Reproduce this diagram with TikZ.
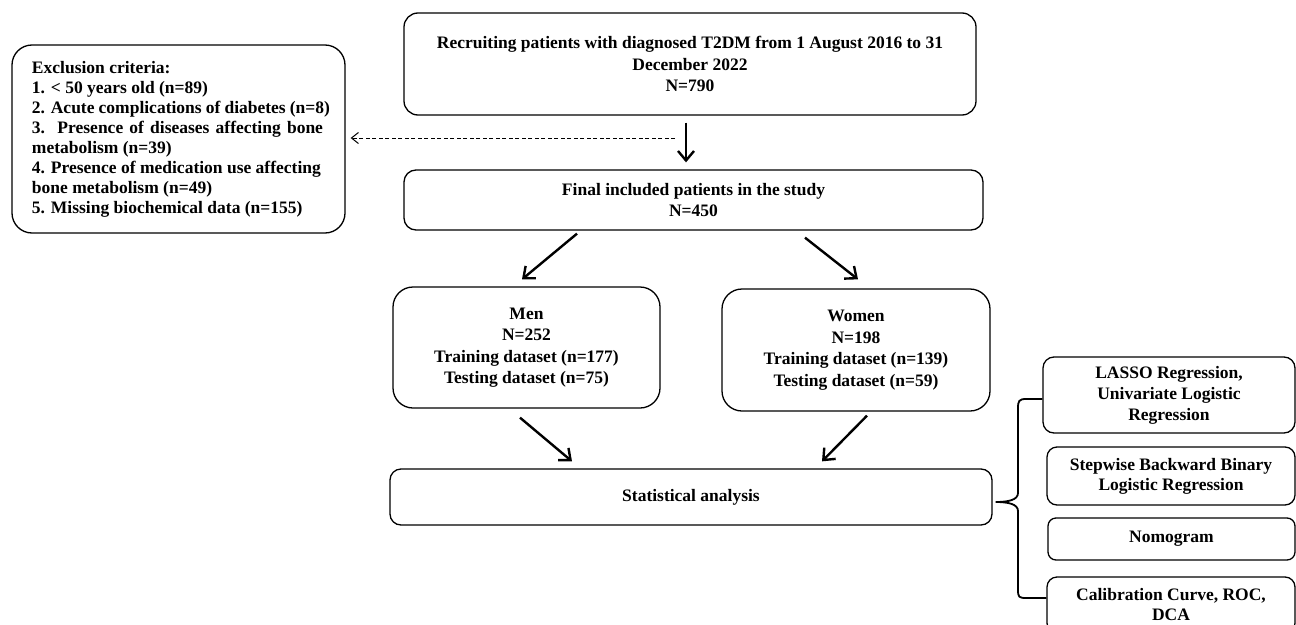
\documentclass[tikz,border=0pt]{standalone}
\usepackage{fontspec}
\setmainfont{Liberation Serif}
\usetikzlibrary{arrows.meta,calc}
\tikzset{
  box/.style={draw=black, line width=1.3pt, rounded corners=#1, inner sep=0pt, align=center,
    font=\fontsize{17.5}{21.5}\selectfont\bfseries},
  box/.default=14pt,
  arr/.style={line width=2.4pt, -{Straight Barb[length=9.5pt,width=16pt,line width=2.4pt]}},
  darr/.style={line width=1pt, dash pattern=on 4pt off 2.5pt, -{Straight Barb[length=7pt,width=11pt,line width=1pt]}},
  bracepath/.style={line width=1.8pt}
}
\begin{document}
\begin{tikzpicture}[x=1pt,y=-1pt]
\clip (0,0) rectangle (1296,624);
\fill[white] (0,0) rectangle (1296,624);

\node[box=14pt, minimum width=572pt, minimum height=102pt] (top) at (690,64)
  {Recruiting patients with diagnosed T2DM from 1 August 2016 to 31\\December 2022\\N=790};
\node[box=12pt, minimum width=579pt, minimum height=60pt] (final) at (693.5,200)
  {Final included patients in the study\\N=450};
\node[box=20pt, minimum width=333pt, minimum height=188pt, align=left,
  font=\fontsize{17.5}{20}\selectfont\bfseries] (excl) at (178.5,139)
  {\hspace*{5pt}\parbox{298pt}{\raggedright
  Exclusion criteria:\\
  1. \textless{} 50 years old (n=89)\\
  2. Acute complications of diabetes (n=8)\\
  \makebox[291pt][s]{3.\ \ Presence of diseases affecting bone}\\
  metabolism (n=39)\\
  4. Presence of medication use affecting\\
  bone metabolism (n=49)\\
  5. Missing biochemical data (n=155)}};
\node[box=20pt, minimum width=267pt, minimum height=121pt] (men) at (526.5,347.5)
  {Men\\N=252\\Training dataset (n=177)\\Testing dataset (n=75)};
\node[box=20pt, minimum width=268pt, minimum height=122pt] (women) at (856,350)
  {Women\\N=198\\Training dataset (n=139)\\Testing dataset (n=59)};
\node[box=11pt, minimum width=602pt, minimum height=56pt] (stat) at (691,497)
  {Statistical analysis};
\node[box=11pt, minimum width=252pt, minimum height=76pt,
  font=\fontsize{17.5}{21}\selectfont\bfseries] (lasso) at (1169,395)
  {LASSO Regression,\\Univariate Logistic\\Regression};
\node[box=10pt, minimum width=248pt, minimum height=58pt,
  font=\fontsize{17.5}{20}\selectfont\bfseries] (step) at (1171,476)
  {Stepwise Backward Binary\\Logistic Regression};
\node[box=8pt, minimum width=247pt, minimum height=42pt] (nomo) at (1171.5,539)
  {Nomogram};
\node[box=10pt, minimum width=248pt, minimum height=56pt,
  font=\fontsize{17.5}{20}\selectfont\bfseries] (calib) at (1171,605)
  {Calibration Curve, ROC,\\DCA};

% arrows
\draw[arr] ($(top.south)+(-4,7)$) -- ($(final.north)+(-7.5,-7)$);
\coordinate (dstart) at (675,138);
\draw[darr] (dstart) -- ($(excl.east)+(5,-1)$);
\draw[arr] ($(final.south)+(-116.5,3)$) -- ($(men.north)+(-4.5,-7)$);
\draw[arr] ($(final.south)+(111.5,7)$) -- ($(women.north)+(2,-9)$);
\draw[arr] ($(men.south)+(-6.5,9)$) -- ($(stat.north)+(-119,-7)$);
\draw[arr] ($(women.south)+(11,4)$) -- ($(stat.north)+(131,-7)$);

% brace
\coordinate (cusp) at ($(stat.east)+(3,5)$);
\draw[bracepath] (lasso.west |- 0,399) -- (1026,399)
  .. controls (1019,399) and (1018,401) .. (1018,408) -- (1018,493)
  .. controls (1018,500) and (1008,502) .. (cusp)
  .. controls (1008,502) and (1018,504) .. (1018,511) -- (1018,590)
  .. controls (1018,597) and (1019,598) .. (1026,598) -- (calib.west |- 0,598);
\end{tikzpicture}
\end{document}
